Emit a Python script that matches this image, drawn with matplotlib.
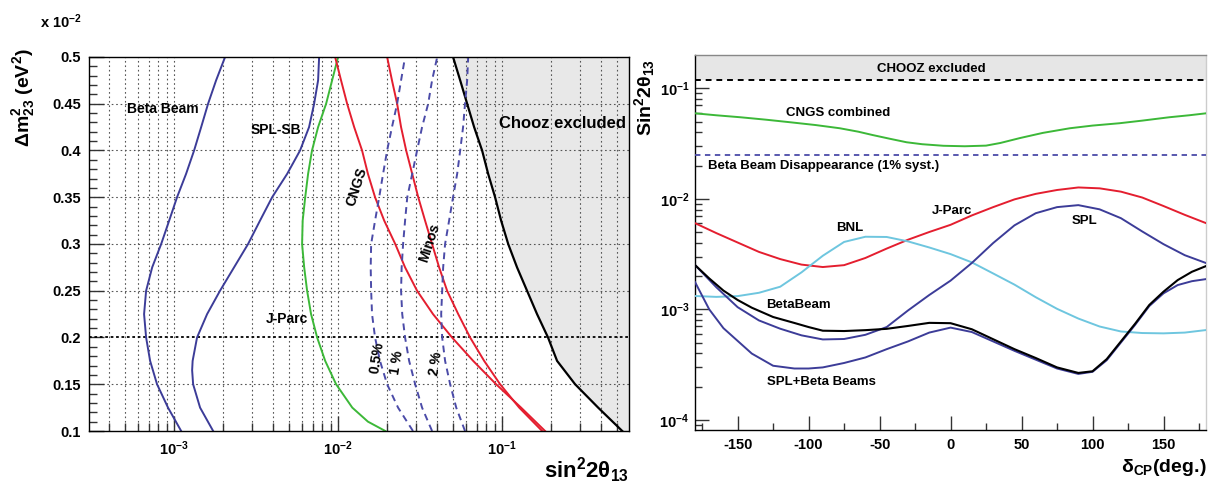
import numpy as np
import matplotlib
matplotlib.use("Agg")
import matplotlib.pyplot as plt
from matplotlib.ticker import FixedLocator, NullFormatter, FixedFormatter

plt.rcParams['font.family'] = ['Liberation Sans', 'DejaVu Sans']
plt.rcParams['font.weight'] = 'bold'
plt.rcParams['mathtext.fontset'] = 'custom'
plt.rcParams['mathtext.rm'] = 'Liberation Sans:bold'
plt.rcParams['mathtext.bf'] = 'Liberation Sans:bold'
plt.rcParams['mathtext.it'] = 'Liberation Sans:bold'
plt.rcParams['mathtext.default'] = 'rm'
plt.rcParams['axes.unicode_minus'] = False

# ---------------- Left panel data (dm2 in units of 1e-2 eV^2) ----------------
dm2 = [0.1, 0.125, 0.15, 0.175, 0.2, 0.225, 0.25, 0.275, 0.3, 0.325,
       0.35, 0.375, 0.4, 0.425, 0.45, 0.475, 0.5]

beta_beam_x = [1.104e-3, 9.18e-4, 7.87e-4, 7.14e-4, 6.75e-4, 6.56e-4, 6.75e-4,
               7.35e-4, 8.34e-4, 9.33e-4, 1.042e-3, 1.183e-3, 1.324e-3,
               1.462e-3, 1.611e-3, 1.803e-3, 2.046e-3]

splsb_y = [0.1, 0.125, 0.15, 0.165, 0.175, 0.2, 0.225, 0.25, 0.275, 0.3,
           0.325, 0.35, 0.375, 0.4, 0.425, 0.45, 0.475, 0.5]
splsb_x = [1.73e-3, 1.44e-3, 1.306e-3, 1.288e-3, 1.297e-3, 1.38e-3, 1.589e-3,
           1.905e-3, 2.32e-3, 2.825e-3, 3.34e-3, 3.96e-3, 4.89e-3, 5.86e-3,
           6.65e-3, 7.14e-3, 7.55e-3, 7.66e-3]

jparc_y = [0.1, 0.11, 0.125, 0.15, 0.175, 0.2, 0.225, 0.25, 0.275, 0.3,
           0.325, 0.35, 0.375, 0.4, 0.425, 0.45, 0.475, 0.5]
jparc_x = [1.94e-2, 1.52e-2, 1.22e-2, 9.72e-3, 8.34e-3, 7.45e-3, 6.84e-3,
           6.47e-3, 6.21e-3, 6.03e-3, 6.08e-3, 6.30e-3, 6.56e-3, 6.93e-3,
           7.55e-3, 8.45e-3, 9.19e-3, 1.0e-2]

cngs_x = [0.1828, 0.1305, 0.0919, 0.0666, 0.0495, 0.0379, 0.0303, 0.0256,
          0.0223, 0.0191, 0.0168, 0.0152, 0.0140, 0.01253, 0.01135, 0.01042,
          0.00959]
minos_x = [0.1754, 0.1271, 0.0972, 0.0777, 0.0638, 0.0540, 0.0462, 0.0413,
           0.0374, 0.0339, 0.0308, 0.0283, 0.0260, 0.0242, 0.0229, 0.0213,
           0.0199]
chooz_x = [0.540, 0.385, 0.2786, 0.2163, 0.1905, 0.1633, 0.1419, 0.1233,
           0.1089, 0.0986, 0.0906, 0.0822, 0.0755, 0.0675, 0.0612, 0.0555,
           0.0502]
dis05_x = [0.0286, 0.0232, 0.0199, 0.0180, 0.0168, 0.0161, 0.0159, 0.0158,
           0.0159, 0.0168, 0.0178, 0.0188, 0.0199, 0.0213, 0.0229, 0.0242,
           0.0256]
dis1_x = [0.0374, 0.0325, 0.0295, 0.0271, 0.0256, 0.0246, 0.0242, 0.0244,
          0.0249, 0.0256, 0.0264, 0.0283, 0.0303, 0.0325, 0.0354, 0.0374,
          0.0402]
dis2_x = [0.0594, 0.0525, 0.0482, 0.0449, 0.0431, 0.0425, 0.0431, 0.0437,
          0.0449, 0.0475, 0.0502, 0.0532, 0.0555, 0.0578, 0.0594, 0.0612,
          0.0621]

# ---------------- Right panel data (delta_CP in degrees) ----------------
d15 = [-180, -165, -150, -135, -120, -105, -90, -75, -60, -45, -30, -15, 0,
       15, 30, 45, 60, 75, 90, 105, 120, 135, 150, 165, 180]

jparc_log = [-2.220, -2.31, -2.395, -2.48, -2.545, -2.595, -2.617, -2.600,
             -2.535, -2.45, -2.37, -2.30, -2.235, -2.15, -2.075, -2.005,
             -1.955, -1.92, -1.897, -1.905, -1.935, -1.988, -2.065, -2.145,
             -2.220]
bnl_log = [-2.879, -2.887, -2.880, -2.850, -2.795, -2.665, -2.515, -2.39,
           -2.343, -2.345, -2.385, -2.44, -2.50, -2.575, -2.675, -2.776,
           -2.89, -2.995, -3.083, -3.155, -3.200, -3.214, -3.217, -3.210,
           -3.187]
spl_log = [-2.599, -2.80, -2.98, -3.10, -3.175, -3.235, -3.272, -3.268,
           -3.23, -3.16, -3.01, -2.87, -2.74, -2.58, -2.40, -2.24, -2.13,
           -2.075, -2.057, -2.095, -2.175, -2.295, -2.41, -2.51, -2.581]

bb_d = [-180, -170, -160, -150, -140, -125, -110, -100, -90, -75, -60, -45,
        -30, -15, 0, 15, 30, 45, 60, 75, 90, 100, 110, 120, 130, 140, 150,
        160, 170, 180]
bb_log = [-2.599, -2.72, -2.83, -2.915, -2.985, -3.069, -3.123, -3.160,
          -3.193, -3.196, -3.188, -3.176, -3.15, -3.122, -3.125, -3.18,
          -3.27, -3.36, -3.44, -3.525, -3.575, -3.56, -3.45, -3.29, -3.13,
          -2.96, -2.84, -2.735, -2.66, -2.608]
splbb_log = [-2.753, -3.0, -3.17, -3.285, -3.40, -3.51, -3.535, -3.535,
             -3.525, -3.485, -3.435, -3.36, -3.29, -3.21, -3.165, -3.205,
             -3.29, -3.375, -3.455, -3.535, -3.584, -3.565, -3.46, -3.30,
             -3.14, -2.97, -2.855, -2.78, -2.745, -2.726]

cngs_d = [-180, -165, -148, -130, -113, -95, -78, -65, -55, -43, -31, -20,
          -5, 10, 25, 35, 49, 65, 84, 100, 119, 135, 154, 168, 180]
cngs_comb = [5.94e-2, 5.70e-2, 5.47e-2, 5.20e-2, 4.93e-2, 4.65e-2, 4.35e-2,
             4.05e-2, 3.78e-2, 3.50e-2, 3.25e-2, 3.12e-2, 3.02e-2, 2.99e-2,
             3.03e-2, 3.20e-2, 3.55e-2, 3.95e-2, 4.35e-2, 4.60e-2, 4.83e-2,
             5.10e-2, 5.47e-2, 5.70e-2, 5.94e-2]

chooz_limit = 0.12
bb_disapp = 0.025

# ---------------- colours ----------------
C_BLUE = '#3c3c98'
C_RED = '#e41e2f'
C_GREEN = '#3cb838'
C_CYAN = '#6ec6df'
C_DASH = '#4b4ba8'

fig = plt.figure(figsize=(12.2, 4.9), dpi=100)

# ======================= LEFT PANEL =======================
ax = fig.add_axes([0.0730, 0.1204, 0.4426, 0.7633])
ax.set_xscale('log')
ax.set_xlim(3.03e-4, 0.594)
ax.set_ylim(0.1, 0.5)

ax.fill_betweenx(dm2, chooz_x, 0.594, color='#e8e8e8', zorder=1, lw=0)

# grid
xgrid = []
for dec in [1e-4, 1e-3, 1e-2, 1e-1]:
    for m in range(1, 10):
        v = m * dec
        if 3.03e-4 < v < 0.594:
            xgrid.append(v)
for v in xgrid:
    ax.axvline(v, color='#555555', lw=0.8, ls=(0, (1.5, 2.5)), zorder=1.5)
for v in [0.15, 0.25, 0.3, 0.35, 0.4, 0.45]:
    ax.axhline(v, color='#555555', lw=0.8, ls=(0, (1.5, 2.5)), zorder=1.5)
ax.axhline(0.2, color='black', lw=1.3, ls=(0, (1.5, 1.5)), zorder=1.6)

lw = 1.4
ax.plot(beta_beam_x, dm2, color=C_BLUE, lw=lw, zorder=3)
ax.plot(splsb_x, splsb_y, color=C_BLUE, lw=lw, zorder=3)
ax.plot(jparc_x, jparc_y, color=C_GREEN, lw=lw, zorder=3)
ax.plot(cngs_x, dm2, color=C_RED, lw=lw, zorder=3)
ax.plot(minos_x, dm2, color=C_RED, lw=lw, zorder=3)
ax.plot(chooz_x, dm2, color='black', lw=1.6, zorder=3)
for dx in (dis05_x, dis1_x, dis2_x):
    ax.plot(dx, dm2, color=C_DASH, lw=1.4, ls=(0, (3.5, 2.5)), zorder=3)

# ticks
ax.xaxis.set_major_locator(FixedLocator([1e-3, 1e-2, 1e-1]))
ax.xaxis.set_major_formatter(FixedFormatter([r'$10^{-3}$', r'$10^{-2}$', r'$10^{-1}$']))
ax.xaxis.set_minor_locator(FixedLocator([v for v in xgrid if v not in (1e-3, 1e-2, 1e-1)]))
ax.xaxis.set_minor_formatter(NullFormatter())
ax.yaxis.set_major_locator(FixedLocator([0.1, 0.15, 0.2, 0.25, 0.3, 0.35, 0.4, 0.45, 0.5]))
ax.yaxis.set_major_formatter(FixedFormatter(['0.1', '0.15', '0.2', '0.25', '0.3', '0.35', '0.4', '0.45', '0.5']))
ax.yaxis.set_minor_locator(FixedLocator(list(np.round(np.arange(0.11, 0.5, 0.01), 3))))
ax.tick_params(which='both', direction='in', top=False, right=False,
               labelsize=10.5, width=1.0, color='#333333')
ax.tick_params(which='major', length=11, pad=6)
ax.tick_params(which='minor', length=6)
for s in ax.spines.values():
    s.set_linewidth(1.0)
    s.set_zorder(5)

tk = dict(transform=ax.transAxes, fontsize=10, fontweight='bold', ha='center', va='center', zorder=6)
ax.text(0.137, 0.861, 'Beta Beam', **tk)
ax.text(0.346, 0.805, 'SPL-SB', **tk)
ax.text(0.367, 0.299, 'J-Parc', **tk)
ax.text(0.496, 0.652, 'CNGS', rotation=72, **tk)
ax.text(0.631, 0.503, 'Minos', rotation=72, **tk)
ax.text(0.533, 0.195, '0.5%', rotation=81, **tk)
ax.text(0.570, 0.184, '1 %', rotation=81, **tk)
ax.text(0.643, 0.179, '2 %', rotation=81, **tk)
ax.text(0.876, 0.821, 'Chooz excluded', transform=ax.transAxes, fontsize=12,
        fontweight='bold', ha='center', va='center', zorder=6)

fig.text(40 / 1220, 1 - 22 / 490, r'x 10$^{-2}$', fontsize=10.5, ha='left', va='center')
fig.text(24 / 1220, 1 - 98 / 490, r'$\Delta$m$^{2}_{23}$ (eV$^{2}$)', fontsize=14,
         rotation=90, ha='center', va='center')
fig.text(629 / 1220, 1 - 470 / 490, r'sin$^{2}$2$\theta_{13}$', fontsize=16,
         ha='right', va='center')

# ======================= RIGHT PANEL =======================
ax2 = fig.add_axes([0.5697, 0.1224, 0.4189, 0.7653])
ax2.set_yscale('log')
ax2.set_xlim(-180, 180)
ax2.set_ylim(8.1e-5, 0.2)

ax2.fill_between([-180, 180], [chooz_limit, chooz_limit], [0.2, 0.2],
                 color='#e6e6e6', lw=0, zorder=1)
ax2.axhline(chooz_limit, color='black', lw=1.4, ls=(0, (3, 2.5)), zorder=3)
ax2.axhline(bb_disapp, color=C_DASH, lw=1.3, ls=(0, (3, 2.5)), zorder=3)

ax2.plot(cngs_d, cngs_comb, color=C_GREEN, lw=1.4, zorder=3)
ax2.plot(d15, 10 ** np.array(jparc_log), color=C_RED, lw=1.4, zorder=3)
ax2.plot(d15, 10 ** np.array(bnl_log), color=C_CYAN, lw=1.4, zorder=3)
ax2.plot(d15, 10 ** np.array(spl_log), color=C_BLUE, lw=1.4, zorder=3)
ax2.plot(bb_d, 10 ** np.array(splbb_log), color=C_BLUE, lw=1.4, zorder=3)
ax2.plot(bb_d, 10 ** np.array(bb_log), color='black', lw=1.5, zorder=4)

ax2.yaxis.set_major_locator(FixedLocator([1e-4, 1e-3, 1e-2, 1e-1]))
ax2.yaxis.set_major_formatter(FixedFormatter([r'$10^{-4}$', r'$10^{-3}$', r'$10^{-2}$', r'$10^{-1}$']))
yminor = [m * d for d in [1e-5, 1e-4, 1e-3, 1e-2, 1e-1] for m in range(2, 10)
          if 8.1e-5 < m * d < 0.2]
ax2.yaxis.set_minor_locator(FixedLocator(yminor))
ax2.yaxis.set_minor_formatter(NullFormatter())
ax2.xaxis.set_major_locator(FixedLocator([-150, -100, -50, 0, 50, 100, 150]))
ax2.xaxis.set_minor_locator(FixedLocator([-175, -125, -75, -25, 25, 75, 125, 175]))
ax2.tick_params(which='both', direction='in', top=False, right=False,
                labelsize=10.5, width=1.0, color='#333333')
ax2.tick_params(which='major', length=10, pad=6)
ax2.tick_params(axis='y', which='major', pad=4)
ax2.tick_params(which='minor', length=5)
ax2.spines['top'].set_color('#888888')
ax2.spines['right'].set_color('#cccccc')
for s in ax2.spines.values():
    s.set_linewidth(1.0)

tk2 = dict(transform=ax2.transAxes, fontsize=9.5, fontweight='bold', ha='center', va='center', zorder=6)
ax2.text(0.462, 0.962, 'CHOOZ excluded', **tk2)
ax2.text(0.280, 0.845, 'CNGS combined', **tk2)
ax2.text(0.252, 0.704, 'Beta Beam Disappearance (1% syst.)', **tk2)
ax2.text(0.303, 0.539, 'BNL', **tk2)
ax2.text(0.503, 0.584, 'J-Parc', **tk2)
ax2.text(0.763, 0.557, 'SPL', **tk2)
ax2.text(0.202, 0.333, 'BetaBeam', **tk2)
ax2.text(0.247, 0.128, 'SPL+Beta Beams', **tk2)

fig.text(645 / 1220, 1 - 98 / 490, r'Sin$^{2}$2$\theta_{13}$', fontsize=14,
         rotation=90, ha='center', va='center')
fig.text(1207 / 1220, 1 - 467 / 490, r'$\delta_{CP}$(deg.)', fontsize=14,
         ha='right', va='center')

fig.savefig('out.png', dpi=100)
